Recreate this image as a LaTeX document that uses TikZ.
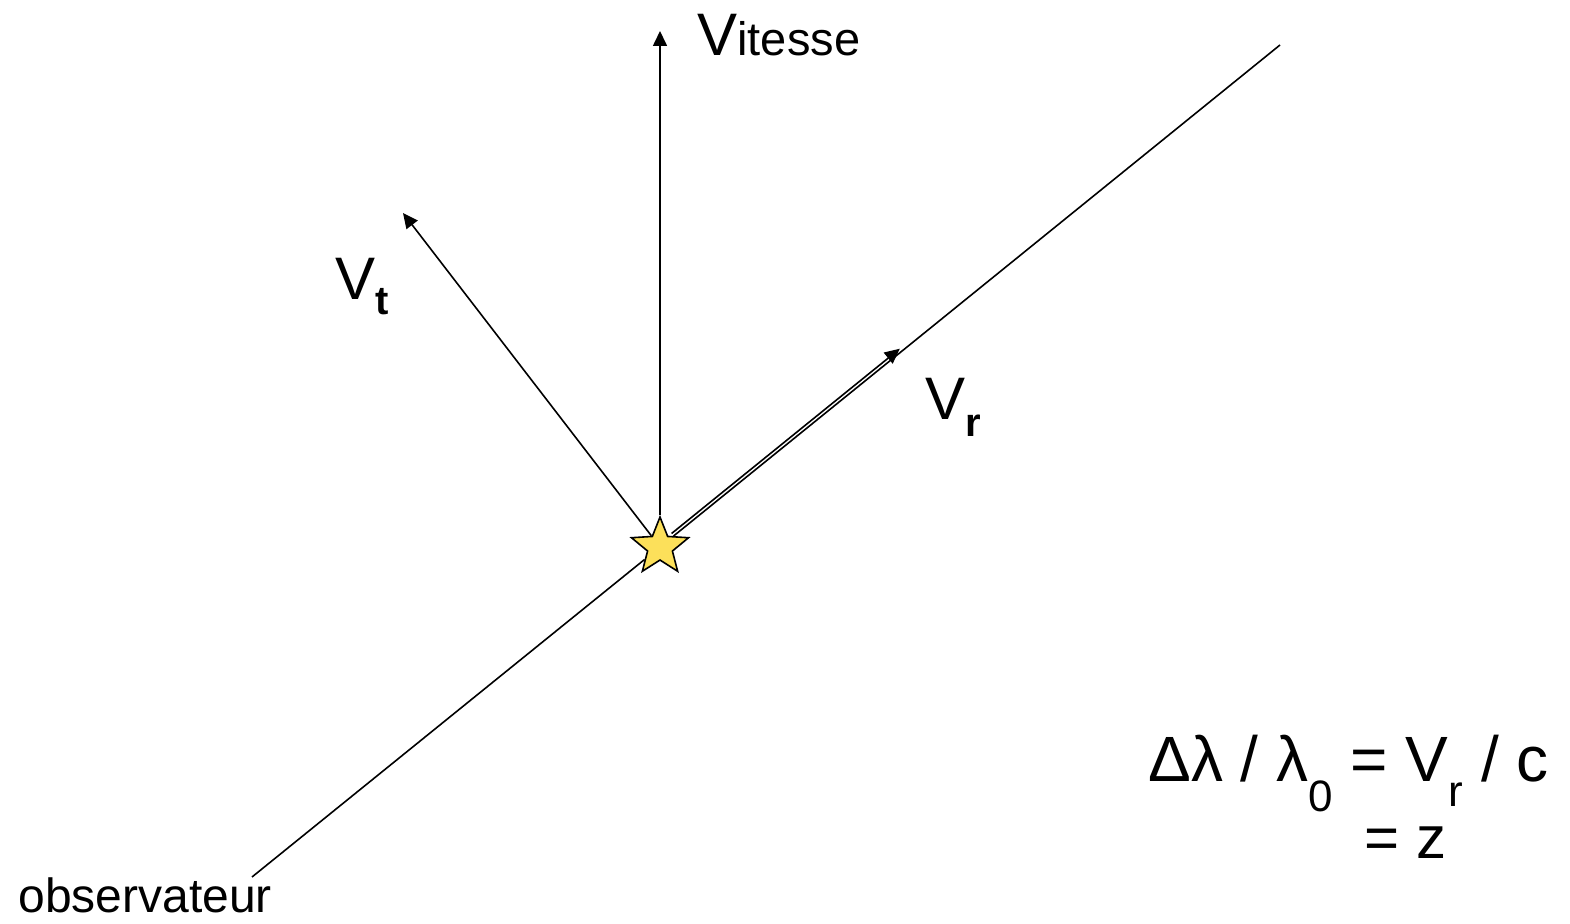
\documentclass[tikz,border=0pt]{standalone}
\usepackage{fontspec}
\setmainfont{Liberation Sans}
\usetikzlibrary{arrows.meta,shapes.geometric,calc}
\definecolor{staryellow}{HTML}{FCE05A}
\newcommand\lowsub[2][13pt]{\raisebox{-#1}{\fontsize{22}{22}\selectfont #2}}

\begin{document}
\begin{tikzpicture}[
    x=0.5pt, y=-0.5pt,
    line/.style={line width=0.8pt},
    vec/.style={line width=0.8pt, -{Triangle[length=7.5pt,width=7pt]}},
    lbl/.style={inner sep=0pt, anchor=base west, font=\fontsize{30}{36}\selectfont},
    starnode/.style={star, star points=5, star point ratio=2.3, minimum size=30pt, inner sep=0pt, draw, line width=0.8pt, fill=staryellow}
  ]
  \useasboundingbox (0,0) rectangle (1570,924);
  \node[starnode] (star) at (660,547) {};
  \coordinate (obs) at (252,877);
  \coordinate (far) at (1280,45);
  \coordinate (vtip) at (660,31);
  \coordinate (ttip) at (403,213);
  \coordinate (rtip) at ($(star.center)!0.39!(far)+(-2,-2.5)$);

  % line of sight
  \draw[line] (obs) -- (star);
  \draw[line] (star) -- (far);
  % velocity and its components
  \draw[vec] (star) -- (vtip);
  \draw[vec] (star) -- (ttip);
  \draw[vec] ([shift={(-2,-2.5)}]star.39) -- (rtip);

  \node[lbl] (vit) at (697,56) {V\fontsize{23.5}{28}\selectfont itesse};
  \node[lbl] (vt) at (335,300) {V\lowsub[7.5pt]{\fontsize{20}{20}\selectfont\bfseries t}};
  \node[lbl] (vr) at (925,420) {V\lowsub[8.5pt]{\fontsize{20}{20}\selectfont\bfseries r}};
  \node[lbl, font=\fontsize{32}{38}\selectfont] (eq) at (1148,782) {Δλ / λ\lowsub[15pt]{0} = V\lowsub[12.5pt]{r} / c};
  \node[lbl] (eqz) at (1364,858) {= z};
  \node[lbl, font=\fontsize{24}{28}\selectfont] (obsl) at (18,912) {observateur};
\end{tikzpicture}
\end{document}
